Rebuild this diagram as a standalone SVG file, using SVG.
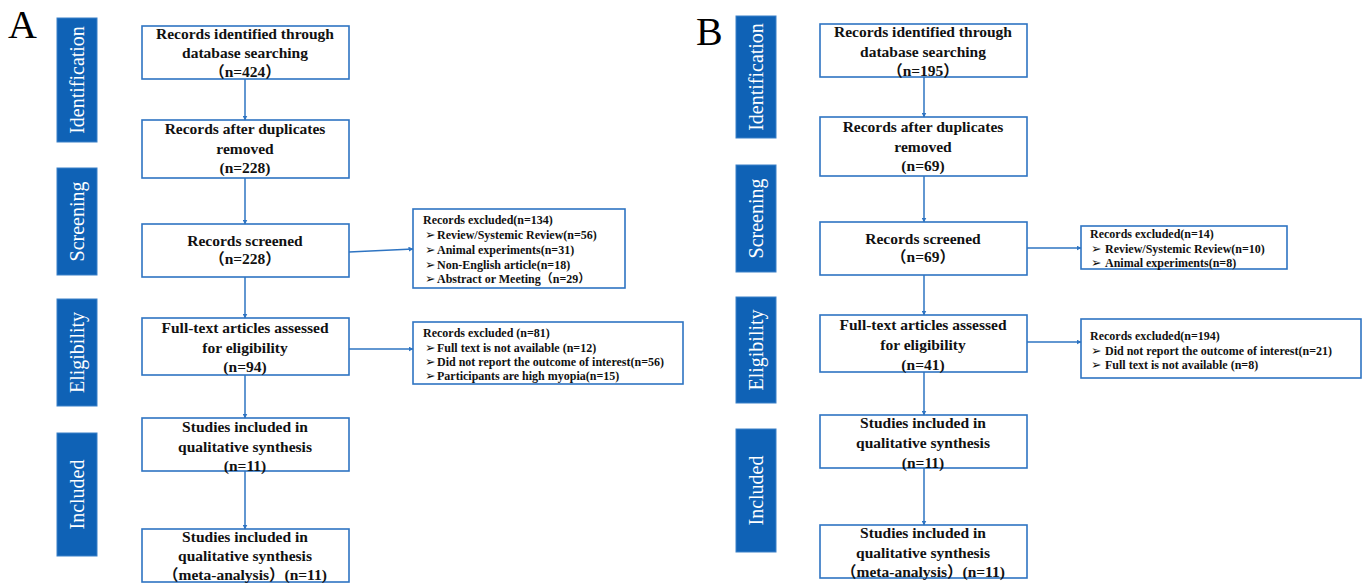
<svg xmlns="http://www.w3.org/2000/svg" width="1365" height="583" viewBox="0 0 1365 583">
<style>
.bg{fill:#ffffff}
.bar{fill:#0F62B6;stroke:#3B80C8;stroke-width:1}
.bar-t{font-family:"Liberation Serif","Noto Sans CJK SC",serif;font-size:20px;fill:#ffffff;text-anchor:middle}
.box{fill:#ffffff;stroke:#2E74C2;stroke-width:1.6}
.t{font-family:"Liberation Serif","Noto Sans CJK SC",serif;font-size:15.5px;font-weight:bold;fill:#111111;text-anchor:middle}
.x{font-family:"Liberation Serif","Noto Sans CJK SC",serif;font-size:12px;font-weight:bold;fill:#111111}
.bul{font-family:"DejaVu Sans",sans-serif;font-size:12.5px;font-weight:bold}
.lbl{font-family:"Liberation Serif",serif;font-size:40px;fill:#000000}
.c{stroke:#2E74C2;stroke-width:1.5;fill:none;marker-end:url(#ah)}
</style>
<defs>
<marker id="ah" viewBox="0 0 10 10" refX="9" refY="5" markerWidth="5" markerHeight="5" markerUnits="userSpaceOnUse" orient="auto">
<path d="M0,0 L10,5 L0,10 z" fill="#2E74C2"/>
</marker>
</defs>
<rect class="bg" x="0" y="0" width="1365" height="583"/>

<text class="lbl" x="8" y="38">A</text>
<text class="lbl" x="696" y="45">B</text>

<!-- Left stage bars -->
<g id="A-stage-identification"><rect class="bar" x="57" y="18" width="40" height="124"/><text class="bar-t" transform="translate(84,80) rotate(-90)">Identification</text></g>
<g id="A-stage-screening"><rect class="bar" x="57" y="168" width="40" height="107"/><text class="bar-t" transform="translate(84,221.5) rotate(-90)">Screening</text></g>
<g id="A-stage-eligibility"><rect class="bar" x="57" y="299" width="40" height="107"/><text class="bar-t" transform="translate(84,352.5) rotate(-90)">Eligibility</text></g>
<g id="A-stage-included"><rect class="bar" x="57" y="433" width="40" height="123"/><text class="bar-t" transform="translate(84,494.5) rotate(-90)">Included</text></g>

<!-- Left boxes -->
<g id="A-identified"><rect class="box" x="142" y="26" width="207" height="53"/>
<text class="t" x="245" y="39">Records identified through</text>
<text class="t" x="245" y="58">database searching</text>
<text class="t" x="245" y="77">（n=424）</text></g>
<g id="A-dedup"><rect class="box" x="142" y="120" width="207" height="58"/>
<text class="t" x="245" y="134">Records after duplicates</text>
<text class="t" x="245" y="154">removed</text>
<text class="t" x="245" y="173">(n=228)</text></g>
<g id="A-screened"><rect class="box" x="142" y="224" width="207" height="53"/>
<text class="t" x="245" y="246">Records screened</text>
<text class="t" x="245" y="264">（n=228）</text></g>
<g id="A-fulltext"><rect class="box" x="142" y="318" width="207" height="57"/>
<text class="t" x="245" y="333">Full-text articles assessed</text>
<text class="t" x="245" y="353">for eligibility</text>
<text class="t" x="245" y="372">(n=94)</text></g>
<g id="A-qualitative"><rect class="box" x="142" y="418" width="207" height="53"/>
<text class="t" x="245" y="432">Studies included in</text>
<text class="t" x="245" y="452">qualitative synthesis</text>
<text class="t" x="245" y="471">(n=11)</text></g>
<g id="A-meta"><rect class="box" x="142" y="529" width="207" height="53"/>
<text class="t" x="245" y="542">Studies included in</text>
<text class="t" x="245" y="561">qualitative synthesis</text>
<text class="t" x="245" y="580">（meta-analysis）(n=11)</text></g>

<g id="A-excl-1"><rect class="box" x="413" y="209" width="212" height="79"/>
<text class="x" x="423" y="224">Records excluded(n=134)</text>
<text class="x" x="425" y="238.5"><tspan class="bul">➢</tspan><tspan x="437">Review/Systemic Review(n=56)</tspan></text>
<text class="x" x="425" y="253.5"><tspan class="bul">➢</tspan><tspan x="437">Animal experiments(n=31)</tspan></text>
<text class="x" x="425" y="268.5"><tspan class="bul">➢</tspan><tspan x="437">Non-English article(n=18)</tspan></text>
<text class="x" x="425" y="282.5"><tspan class="bul">➢</tspan><tspan x="437">Abstract or Meeting（n=29）</tspan></text></g>
<g id="A-excl-2"><rect class="box" x="413" y="322" width="270" height="62"/>
<text class="x" x="423" y="337">Records excluded (n=81)</text>
<text class="x" x="425" y="351.5"><tspan class="bul">➢</tspan><tspan x="437">Full text is not available (n=12)</tspan></text>
<text class="x" x="425" y="366"><tspan class="bul">➢</tspan><tspan x="437">Did not report the outcome of interest(n=56)</tspan></text>
<text class="x" x="425" y="380"><tspan class="bul">➢</tspan><tspan x="437">Participants are high myopia(n=15)</tspan></text></g>

<!-- Right stage bars -->
<g id="B-stage-identification"><rect class="bar" x="736" y="16" width="40" height="122"/><text class="bar-t" transform="translate(763,77) rotate(-90)">Identification</text></g>
<g id="B-stage-screening"><rect class="bar" x="736" y="165" width="40" height="107"/><text class="bar-t" transform="translate(763,218.5) rotate(-90)">Screening</text></g>
<g id="B-stage-eligibility"><rect class="bar" x="736" y="297" width="40" height="106"/><text class="bar-t" transform="translate(763,350) rotate(-90)">Eligibility</text></g>
<g id="B-stage-included"><rect class="bar" x="736" y="429" width="40" height="123"/><text class="bar-t" transform="translate(763,490.5) rotate(-90)">Included</text></g>

<!-- Right boxes -->
<g id="B-identified"><rect class="box" x="820" y="24" width="207" height="53"/>
<text class="t" x="923" y="37">Records identified through</text>
<text class="t" x="923" y="57">database searching</text>
<text class="t" x="923" y="76">（n=195）</text></g>
<g id="B-dedup"><rect class="box" x="820" y="117" width="207" height="59"/>
<text class="t" x="923" y="132">Records after duplicates</text>
<text class="t" x="923" y="152">removed</text>
<text class="t" x="923" y="171">(n=69)</text></g>
<g id="B-screened"><rect class="box" x="820" y="222" width="207" height="53"/>
<text class="t" x="923" y="244">Records screened</text>
<text class="t" x="923" y="262">（n=69）</text></g>
<g id="B-fulltext"><rect class="box" x="820" y="315" width="207" height="57"/>
<text class="t" x="923" y="330">Full-text articles assessed</text>
<text class="t" x="923" y="350">for eligibility</text>
<text class="t" x="923" y="370">(n=41)</text></g>
<g id="B-qualitative"><rect class="box" x="820" y="415" width="207" height="53"/>
<text class="t" x="923" y="428">Studies included in</text>
<text class="t" x="923" y="448">qualitative synthesis</text>
<text class="t" x="923" y="468">(n=11)</text></g>
<g id="B-meta"><rect class="box" x="820" y="525" width="207" height="53"/>
<text class="t" x="923" y="538">Studies included in</text>
<text class="t" x="923" y="558">qualitative synthesis</text>
<text class="t" x="923" y="577">（meta-analysis）(n=11)</text></g>

<g id="B-excl-1"><rect class="box" x="1081" y="226" width="206" height="43"/>
<text class="x" x="1090" y="238">Records excluded(n=14)</text>
<text class="x" x="1091" y="252.5"><tspan class="bul">➢</tspan><tspan x="1105">Review/Systemic Review(n=10)</tspan></text>
<text class="x" x="1091" y="267"><tspan class="bul">➢</tspan><tspan x="1105">Animal experiments(n=8)</tspan></text></g>
<g id="B-excl-2"><rect class="box" x="1081" y="319" width="280" height="59"/>
<text class="x" x="1090" y="340">Records excluded(n=194)</text>
<text class="x" x="1091" y="354.5"><tspan class="bul">➢</tspan><tspan x="1105">Did not report the outcome of interest(n=21)</tspan></text>
<text class="x" x="1091" y="369"><tspan class="bul">➢</tspan><tspan x="1105">Full text is not available (n=8)</tspan></text></g>

<g id="connectors">
<path class="c" d="M245,79 V120"/>
<path class="c" d="M245,178 V224"/>
<path class="c" d="M245,277 V318"/>
<path class="c" d="M245,375 V418"/>
<path class="c" d="M245,471 V529"/>
<path class="c" d="M349,252 L413,249"/>
<path class="c" d="M349,349 H413"/>
<path class="c" d="M924,77 V117"/>
<path class="c" d="M924,176 V222"/>
<path class="c" d="M924,275 V315"/>
<path class="c" d="M924,372 V415"/>
<path class="c" d="M924,468 V525"/>
<path class="c" d="M1027,248 H1081"/>
<path class="c" d="M1027,342 H1081"/>
</g>
</svg>
